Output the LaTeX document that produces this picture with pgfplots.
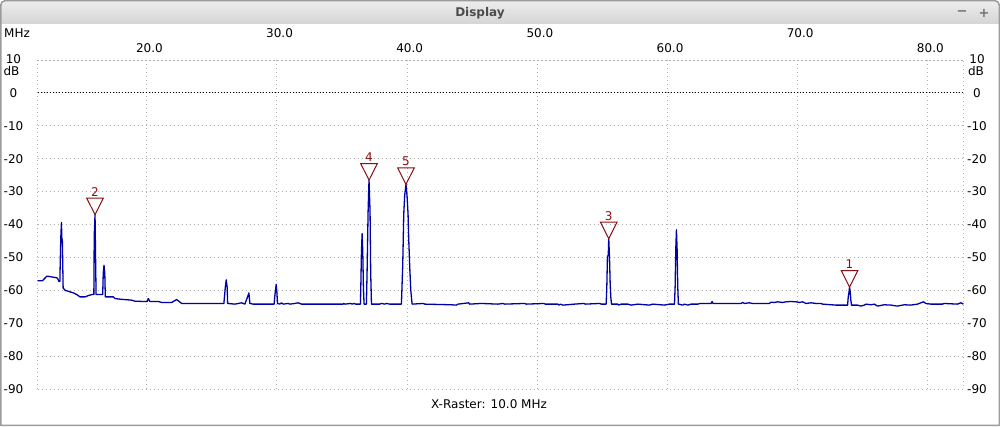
\documentclass[border=0pt]{standalone}
\usepackage{pgfplots}
\pgfplotsset{compat=1.18}
\usepackage{fontspec}
\setmainfont{DejaVu Sans}
\definecolor{gridgray}{HTML}{B0B0B0}
\definecolor{specblue}{HTML}{0000A8}
\definecolor{mkred}{HTML}{8B1010}
\definecolor{bartop}{HTML}{EDEDED}
\definecolor{barbot}{HTML}{D5D5D5}
\definecolor{framec}{HTML}{9C9C9C}
\pgfdeclareplotmark{dtri}{%
  \pgfpathmoveto{\pgfpointorigin}%
  \pgfpathlineto{\pgfpoint{-8.3pt}{16.5pt}}%
  \pgfpathlineto{\pgfpoint{8.3pt}{16.5pt}}%
  \pgfpathclose
  \pgfusepathqstroke}

\pgfplotstableread{
f db
11.61 -57.1
11.99 -57.1
12.33 -55.7
12.66 -55.9
13.09 -56.2
13.17 -56.5
13.25 -57.3
13.33 -57.3
13.35 -52.9
13.40 -44.0
13.45 -39.4
13.48 -44.0
13.52 -45.0
13.58 -59.3
13.73 -60.0
13.98 -60.3
14.37 -60.8
14.63 -61.3
14.88 -62.0
15.26 -62.0
15.52 -61.6
15.78 -61.3
15.94 -61.3
15.97 -43.3
16.03 -37.0
16.07 -49.4
16.11 -61.3
16.62 -61.3
16.66 -54.9
16.72 -52.4
16.78 -54.9
16.82 -62.0
17.44 -62.0
17.57 -62.5
17.95 -62.7
18.85 -63.0
19.10 -63.3
19.74 -63.4
20.04 -63.4
20.12 -62.5
20.25 -63.4
20.89 -63.4
21.15 -63.7
21.92 -63.7
22.30 -62.8
22.69 -64.0
25.93 -64.0
26.04 -59.0
26.11 -56.8
26.18 -59.0
26.22 -64.0
26.78 -64.2
27.29 -63.8
27.54 -64.2
27.75 -62.0
27.85 -60.8
27.93 -64.0
28.18 -64.2
29.08 -64.2
29.79 -64.2
29.85 -61.5
29.95 -58.2
30.00 -60.5
30.05 -64.0
30.23 -64.2
30.36 -63.8
30.48 -64.2
30.87 -64.0
31.00 -64.2
31.38 -64.0
31.63 -63.8
31.90 -64.2
35.09 -64.2
35.14 -64.0
35.22 -64.2
35.68 -64.0
35.78 -64.2
35.94 -64.0
36.04 -64.2
36.42 -64.2
36.45 -59.0
36.50 -48.2
36.55 -42.8
36.60 -48.2
36.65 -59.0
36.70 -64.2
36.88 -64.2
36.93 -54.9
37.01 -36.1
37.08 -26.5
37.16 -36.1
37.21 -54.9
37.27 -64.2
37.90 -64.2
38.03 -64.0
38.29 -64.2
38.42 -64.0
38.67 -64.2
39.57 -64.2
39.67 -52.4
39.75 -36.8
39.82 -31.2
39.92 -27.8
40.00 -31.2
40.08 -36.8
40.13 -44.3
40.21 -53.0
40.29 -60.0
40.39 -64.2
41.23 -64.0
41.36 -64.2
43.41 -64.4
43.79 -64.5
43.92 -64.2
44.74 -63.8
44.81 -64.2
45.71 -64.0
46.99 -64.2
47.37 -64.0
47.50 -64.2
49.03 -64.0
49.16 -64.2
50.52 -64.0
50.62 -64.2
51.59 -64.2
51.67 -64.5
51.77 -64.2
51.98 -64.5
52.87 -64.2
53.58 -64.0
53.69 -64.2
54.79 -64.0
54.92 -64.2
55.30 -64.2
55.35 -59.0
55.40 -49.6
55.46 -49.5
55.50 -44.3
55.56 -50.5
55.61 -58.2
55.66 -62.2
55.71 -64.2
56.19 -64.2
56.25 -64.5
56.45 -64.2
56.96 -64.2
57.22 -64.5
57.73 -64.2
58.63 -64.5
58.88 -64.2
59.78 -64.5
60.16 -64.2
60.55 -64.2
60.60 -58.8
60.65 -47.4
60.70 -41.6
60.75 -47.4
60.80 -58.8
60.85 -64.2
61.18 -64.5
61.31 -64.2
61.57 -64.5
61.83 -64.2
62.33 -64.2
62.54 -64.0
63.36 -64.0
63.44 -63.4
63.51 -64.0
64.64 -64.0
65.66 -64.0
65.79 -63.7
65.92 -64.0
66.30 -63.8
66.56 -64.0
67.84 -64.0
67.97 -63.6
68.22 -63.7
68.47 -63.5
68.86 -63.7
69.12 -63.5
69.50 -63.4
69.89 -63.5
70.14 -63.7
70.39 -63.5
70.65 -64.0
71.04 -63.8
71.42 -64.0
71.80 -64.0
71.93 -64.2
72.95 -64.5
73.85 -64.5
73.90 -62.0
73.96 -60.5
74.00 -59.0
74.05 -60.5
74.10 -63.0
74.15 -64.5
74.61 -64.5
74.87 -64.8
75.13 -64.5
75.26 -64.2
75.64 -64.4
75.90 -64.2
76.15 -64.8
76.66 -64.4
77.18 -64.5
77.68 -64.8
78.20 -64.4
78.71 -64.5
79.22 -64.2
79.48 -63.8
79.68 -63.5
79.86 -64.0
80.24 -64.2
81.14 -64.2
81.27 -64.0
82.29 -64.2
82.55 -63.8
82.74 -64.2
}\spectrum

\pgfplotstableread{
f db label
74.00 -59.0 1
16.03 -37.0 2
55.50 -44.3 3
37.08 -26.5 4
39.92 -27.8 5
}\markers

\begin{document}
\begin{tikzpicture}[x=1pt,y=1pt,font=\fontsize{12}{14}\selectfont]
\useasboundingbox (0,0) rectangle (1000,426);
\fill[white] (0,0) rectangle (1000,426);
% title bar
\shade[top color=bartop,bottom color=barbot]
  (0.75,402) -- (0.75,421) arc[start angle=180,end angle=90,radius=4.25]
  -- (995,425.25) arc[start angle=90,end angle=0,radius=4.25] -- (999.25,402) -- cycle;
\draw[framec,line width=1.5pt]
  (0.75,0.75) -- (0.75,421) arc[start angle=180,end angle=90,radius=4.25]
  -- (995,425.25) arc[start angle=90,end angle=0,radius=4.25] -- (999.25,0.75) -- cycle;
\node[text=black!70,font=\fontsize{12}{14}\selectfont\bfseries] at (480,413) {Display};
\node[text=black!55,font=\fontsize{13}{15}\selectfont\bfseries] at (962,413) {−};
\node[text=black!55,font=\fontsize{13}{15}\selectfont\bfseries] at (984,413) {+};
% labels
\node at (17,393) {MHz};
\node at (11.5,355) {dB};
\node at (976,355) {dB};
\node at (489,21.5) {X-Raster: 10.0 MHz};

\begin{axis}[
  at={(37.5pt,37pt)}, anchor=south west,
  scale only axis, width=925.8pt, height=329pt,
  xmin=11.61, xmax=82.74, ymin=-90, ymax=10,
  axis line style={draw=gridgray,line width=1pt,dash pattern=on 1pt off 3pt},
  grid=major,
  major grid style={draw=gridgray,line width=1pt,dash pattern=on 1pt off 3pt},
  major tick length=0pt, tick style={draw=none},
  xtick={20,40,60,80}, xticklabels={20.0,40.0,60.0,80.0},
  xticklabel pos=upper,
  xticklabel style={anchor=center,yshift=12pt,xshift=2.7pt,font=\fontsize{12}{14}\selectfont},
  extra x ticks={30,50,70}, extra x tick labels={30.0,50.0,70.0},
  extra x tick style={grid=major,xticklabel style={yshift=15pt}},
  ytick={-90,-80,-70,-60,-50,-40,-30,-20,-10,0,10},
  yticklabels={-90,-80,-70,-60,-50,-40,-30,-20,-10,0,\raisebox{2pt}{10}},
  yticklabel style={anchor=center,xshift=-24pt,font=\fontsize{12}{14}\selectfont},
  clip=false,
]
\addplot[black,line width=1pt,dash pattern=on 1pt off 2pt] coordinates {(11.61,0) (82.74,0)};
\addplot[specblue,line width=1.3pt,line join=round] table[x=f,y=db] {\spectrum};
\addplot[only marks,mark=dtri,mark options={draw=mkred,line width=1pt},
  nodes near coords, point meta=explicit symbolic,
  every node near coord/.style={anchor=center,yshift=23pt,text=mkred,font=\fontsize{12}{14}\selectfont}]
  table[x=f,y=db,meta=label] {\markers};
\end{axis}

\begin{axis}[
  at={(37.5pt,37pt)}, anchor=south west,
  scale only axis, width=925.8pt, height=329pt,
  xmin=11.61, xmax=82.74, ymin=-90, ymax=10,
  axis line style={draw=none},
  xtick=\empty,
  major tick length=0pt, tick style={draw=none},
  ytick={-90,-80,-70,-60,-50,-40,-30,-20,-10,0,10},
  yticklabels={-90,-80,-70,-60,-50,-40,-30,-20,-10,0,\raisebox{2pt}{10}},
  yticklabel pos=right,
  yticklabel style={anchor=center,xshift=13.7pt,font=\fontsize{12}{14}\selectfont},
]
\end{axis}
\end{tikzpicture}
\end{document}
